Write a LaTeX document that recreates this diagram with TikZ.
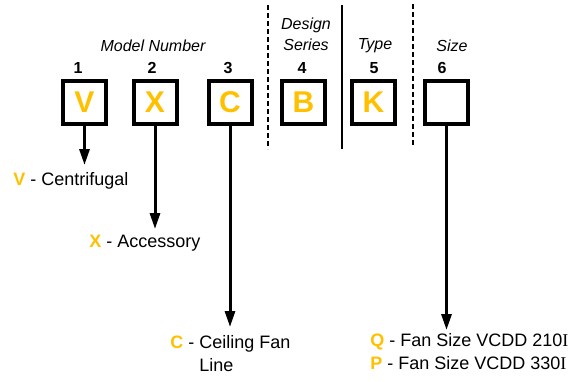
\documentclass[tikz,border=0pt]{standalone}
\usepackage{fontspec}
\setmainfont{Liberation Sans}
\newfontfamily\serifI{Liberation Serif}
\usetikzlibrary{arrows.meta,positioning}
\definecolor{codeorange}{RGB}{255,192,0}
\tikzset{every picture/.style={line width=0.75pt}}
\tikzset{
  codebox/.style={draw,line width=4pt,minimum size=43pt,inner sep=0pt,
    font=\fontsize{30}{30}\selectfont\bfseries,text=codeorange},
  codenum/.style={font=\fontsize{16}{16}\selectfont\bfseries,inner sep=0pt},
  heading/.style={font=\fontsize{16}{21}\selectfont\itshape,align=center,inner sep=0pt},
  choice/.style={font=\fontsize{18}{23}\selectfont,anchor=west,align=left,inner sep=0pt},
  pointer/.style={line width=3pt,-{Triangle[length=16pt,width=10pt]}},
  divider/.style={line width=2.5pt}
}
\newcommand{\codeletter}[1]{\textcolor{codeorange}{\bfseries #1}}

\begin{document}
\begin{tikzpicture}[x=1pt,y=-1pt]
    \useasboundingbox (0,0) rectangle (580,381);

    % Dividers between the code groups
    \draw[divider,dash pattern=on 5pt off 3pt] (268,5) -- (268,149);
    \draw[divider] (342,5) -- (342,149);
    \draw[divider,dash pattern=on 5pt off 3pt] (413,4) -- (413,147);

    % Group headings
    \node[heading] (hmodel) at (153,46) {Model Number};
    \node[heading] (hdesign) at (306,34) {Design\\Series};
    \node[heading] (htype) at (375,46) {Type};
    \node[heading] (hsize) at (452,46) {Size};

    % Code boxes
    \node[codebox] (b1) at (84.5,102.5) {V};
    \node[codebox] (b2) at (155,102.5) {X};
    \node[codebox] (b3) at (230,102.5) {C};
    \node[codebox] (b4) at (303.5,102.5) {B};
    \node[codebox] (b5) at (373.5,102.5) {K};
    \node[codebox] (b6) at (446.5,102.5) {};

    % Position numbers
    \node[codenum] (n1) at (78,68) {1};
    \node[codenum] (n2) at (152,68) {2};
    \node[codenum] (n3) at (228,68) {3};
    \node[codenum] (n4) at (302,68) {4};
    \node[codenum] (n5) at (374,68) {5};
    \node[codenum] (n6) at (442,68) {6};

    % Meaning of each letter
    \node[choice] (lv) at (13,181) {\codeletter{V} - Centrifugal};
    \node[choice] (lx) at (89,243) {\codeletter{X} - Accessory};
    \node[choice] (lc) at (170,354) {\codeletter{C} - Ceiling Fan\\\hphantom{\codeletter{C} - }Line};
    \node[choice] (ls) at (370,352) {\codeletter{Q} - Fan Size VCDD 210{\serifI I}\\
        \codeletter{P} - Fan Size VCDD 330{\serifI I}};

    % Arrow ends
    \coordinate (t1) at (b1.south |- 0,165);
    \coordinate (t2) at (b2.south |- 0,229);
    \coordinate (t3) at (b3.south |- 0,327);
    \coordinate (t6) at (b6.south |- 0,330);

    \draw[pointer] (b1.south) -- (t1);
    \draw[pointer] (b2.south) -- (t2);
    \draw[pointer] (b3.south) -- (t3);
    \draw[pointer] (b6.south) -- (t6);
\end{tikzpicture}
\end{document}
